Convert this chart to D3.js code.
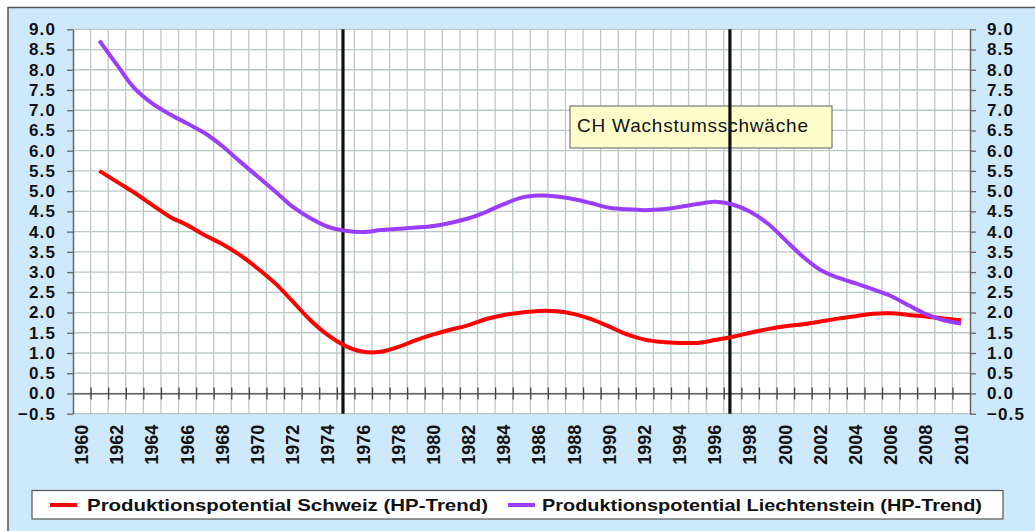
<!DOCTYPE html>
<html>
<head>
<meta charset="utf-8">
<script src="https://cdn.jsdelivr.net/npm/d3@7"></script>
<style>
	body { margin: 0; background: #fff; }
	svg { display: block; font-family: 'Liberation Sans', Arial, sans-serif; }
	.tick-label text { font-weight: bold; fill: #111; }
</style>
</head>
<body>
<svg id="chart"></svg>
<script>
const years = [1960, 1961, 1962, 1963, 1964, 1965, 1966, 1967, 1968, 1969,
	1970, 1971, 1972, 1973, 1974, 1975, 1976, 1977, 1978, 1979,
	1980, 1981, 1982, 1983, 1984, 1985, 1986, 1987, 1988, 1989,
	1990, 1991, 1992, 1993, 1994, 1995, 1996, 1997, 1998, 1999,
	2000, 2001, 2002, 2003, 2004, 2005, 2006, 2007, 2008, 2009, 2010]

// Produktionspotential Schweiz (HP-Trend), %
const schweiz = [null, 5.50, 5.23, 4.96, 4.66, 4.37, 4.16, 3.91, 3.69, 3.42,
	3.09, 2.72, 2.27, 1.81, 1.44, 1.17, 1.03, 1.03, 1.15, 1.32,
	1.46, 1.58, 1.69, 1.84, 1.94, 2.00, 2.04, 2.03, 1.96, 1.83,
	1.65, 1.46, 1.33, 1.27, 1.25, 1.25, 1.32, 1.40, 1.50, 1.59,
	1.66, 1.71, 1.78, 1.85, 1.91, 1.97, 1.98, 1.94, 1.90, 1.85, 1.81]

// Produktionspotential Liechtenstein (HP-Trend), %
const liechtenstein = [null, 8.72, 8.12, 7.54, 7.17, 6.90, 6.67, 6.43, 6.11, 5.73,
	5.36, 4.99, 4.61, 4.33, 4.12, 4.02, 3.99, 4.04, 4.07, 4.10,
	4.14, 4.22, 4.33, 4.49, 4.68, 4.84, 4.89, 4.87, 4.80, 4.70,
	4.59, 4.55, 4.53, 4.55, 4.61, 4.68, 4.74, 4.67, 4.49, 4.20,
	3.79, 3.38, 3.05, 2.86, 2.72, 2.57, 2.41, 2.18, 1.96, 1.81, 1.73]

const yTicks = [-0.5, 0, 0.5, 1, 1.5, 2, 2.5, 3, 3.5, 4, 4.5, 5, 5.5, 6, 6.5, 7, 7.5, 8, 8.5, 9]
const xLabelYears = [1960, 1962, 1964, 1966, 1968, 1970, 1972, 1974, 1976, 1978,
	1980, 1982, 1984, 1986, 1988, 1990, 1992, 1994, 1996, 1998,
	2000, 2002, 2004, 2006, 2008, 2010]
const markerYears = [1975, 1997]
const annotation = 'CH Wachstumsschwäche'
const seriesNames = ['Produktionspotential Schweiz (HP-Trend)', 'Produktionspotential Liechtenstein (HP-Trend)']
const seriesColors = ['#ff0000', '#9b3dff']

function chart() {
	const width = 1035
	const height = 531

	const margin = { top: 29.3, right: 65, bottom: 117.3, left: 73 }
	const plotRight = width - margin.right
	const plotBottom = height - margin.bottom

	const svg = d3.select('#chart').attr('width', width).attr('height', height)

	// frame
	svg.append('rect')
		.attr('x', 8).attr('y', 7.5)
		.attr('width', width).attr('height', height)
		.attr('fill', '#cde9fb')
		.attr('stroke', '#555')
		.attr('stroke-width', 1.5)

	const xScale = d3.scaleBand()
		.domain(years)
		.range([margin.left, plotRight])
	const xEdge = d3.scaleLinear()
		.domain([0, years.length])
		.range([margin.left, plotRight])
	const yScale = d3.scaleLinear()
		.domain([-0.5, 9])
		.range([plotBottom, margin.top])

	// plot area
	svg.append('rect')
		.attr('x', margin.left).attr('y', margin.top)
		.attr('width', plotRight - margin.left).attr('height', plotBottom - margin.top)
		.attr('fill', '#fff')

	// grid
	const grid = svg.append('g').attr('stroke', '#bcc8c6').attr('stroke-width', 1.3)
	grid.selectAll('line.h')
		.data(yTicks)
		.join('line')
		.attr('class', 'h')
		.attr('x1', margin.left).attr('x2', plotRight)
		.attr('y1', d => yScale(d)).attr('y2', d => yScale(d))
	grid.selectAll('line.v')
		.data(d3.range(1, years.length))
		.join('line')
		.attr('class', 'v')
		.attr('x1', d => xEdge(d)).attr('x2', d => xEdge(d))
		.attr('y1', margin.top).attr('y2', plotBottom)

	// zero axis with crossing ticks
	const zeroAxis = svg.append('g')
		.attr('transform', `translate(0,${yScale(0)})`)
		.call(d3.axisBottom(xEdge).tickValues(d3.range(1, years.length)).tickSize(6).tickSizeOuter(0).tickFormat(''))
	zeroAxis.select('.domain').attr('stroke', '#444').attr('stroke-width', 1.3)
	zeroAxis.selectAll('.tick line').attr('y1', -6).attr('stroke', '#444').attr('stroke-width', 1.3)

	// y axes
	const fmt = d3.format('.1f')
	const leftAxis = svg.append('g')
		.attr('class', 'tick-label')
		.attr('transform', `translate(${margin.left},0)`)
		.call(d3.axisLeft(yScale).tickValues(yTicks).tickFormat(fmt).tickSize(6).tickSizeOuter(0).tickPadding(11))
	const rightAxis = svg.append('g')
		.attr('class', 'tick-label')
		.attr('transform', `translate(${plotRight},0)`)
		.call(d3.axisRight(yScale).tickValues(yTicks).tickFormat(fmt).tickSize(6).tickSizeOuter(0).tickPadding(11))
	;[leftAxis, rightAxis].forEach(a => {
		a.select('.domain').attr('stroke', '#666').attr('stroke-width', 1.5)
		a.selectAll('.tick line').attr('stroke', '#666').attr('stroke-width', 1.3)
		a.selectAll('text').attr('font-size', 17).attr('letter-spacing', 1.1).attr('font-family', 'Liberation Sans, Arial, sans-serif')
	})

	// x labels
	const xAxis = svg.append('g')
		.attr('class', 'tick-label')
		.attr('transform', `translate(0,${plotBottom})`)
		.call(d3.axisBottom(xScale).tickValues(xLabelYears).tickSize(0).tickPadding(0))
	xAxis.select('.domain').remove()
	xAxis.selectAll('text')
		.attr('font-size', 18)
		.attr('font-family', 'Liberation Sans, Arial, sans-serif')
		.attr('text-anchor', 'end')
		.attr('dy', '0.35em')
		.attr('y', 0)
		.attr('transform', 'translate(0,11) rotate(-90)')

	// annotation box
	const ann = svg.append('g')
	ann.append('rect')
		.attr('x', 570).attr('y', 106)
		.attr('width', 262).attr('height', 42)
		.attr('fill', '#ffffcc')
		.attr('stroke', '#777')
		.attr('stroke-width', 1.2)
	ann.append('text')
		.attr('x', 577).attr('y', 132)
		.attr('font-size', 19)
		.attr('letter-spacing', 0.8)
		.attr('fill', '#111')
		.text(annotation)

	// marker lines
	svg.selectAll('line.marker')
		.data(markerYears)
		.join('line')
		.attr('class', 'marker')
		.attr('x1', d => xScale(d) + xScale.bandwidth() * 0.35)
		.attr('x2', d => xScale(d) + xScale.bandwidth() * 0.35)
		.attr('y1', margin.top).attr('y2', plotBottom)
		.attr('stroke', '#111')
		.attr('stroke-width', 3.2)

	// series lines
	const line = d3.line()
		.defined(d => d[1] != null)
		.x(d => xScale(d[0]) + xScale.bandwidth() / 2)
		.y(d => yScale(d[1]))
		.curve(d3.curveCatmullRom.alpha(0.5))

	;[schweiz, liechtenstein].forEach((values, i) => {
		svg.append('path')
			.datum(years.map((y, j) => [y, values[j]]))
			.attr('fill', 'none')
			.attr('stroke', seriesColors[i])
			.attr('stroke-width', 4)
			.attr('stroke-linejoin', 'round')
			.attr('d', line)
	})

	// legend
	const legend = svg.append('g')
	legend.append('rect')
		.attr('x', 32).attr('y', 490.5)
		.attr('width', 971).attr('height', 28.5)
		.attr('fill', '#fff')
		.attr('stroke', '#555')
		.attr('stroke-width', 1.2)
	const items = [
		{ x: 50, tx: 87, w: 401 },
		{ x: 508, tx: 542, w: 440 }
	]
	items.forEach((it, i) => {
		legend.append('line')
			.attr('x1', it.x).attr('x2', it.x + 27)
			.attr('y1', 505).attr('y2', 505)
			.attr('stroke', seriesColors[i])
			.attr('stroke-width', 4)
		legend.append('text')
			.attr('x', it.tx).attr('y', 511)
			.attr('font-size', 16.5)
			.attr('font-weight', 'bold')
			.attr('fill', '#111')
			.attr('textLength', it.w)
			.attr('lengthAdjust', 'spacingAndGlyphs')
			.text(seriesNames[i])
	})
}

chart()
</script>
</body>
</html>
